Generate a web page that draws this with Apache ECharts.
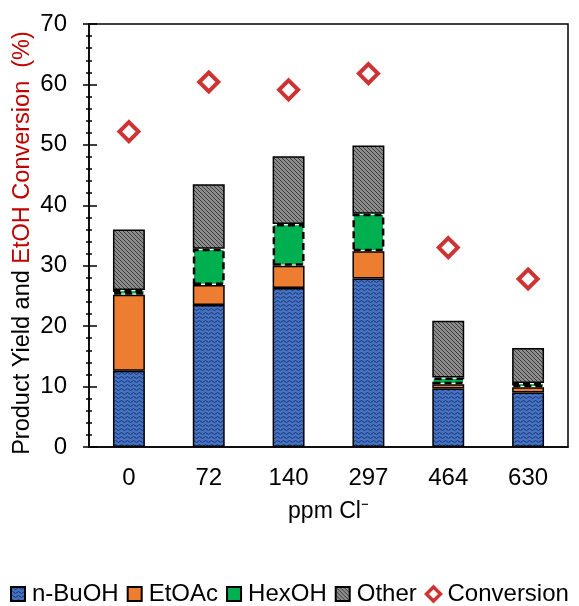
<!DOCTYPE html>
<html>
<head>
<meta charset="utf-8">
<script src="https://cdn.jsdelivr.net/npm/echarts@6/dist/echarts.min.js"></script>
<style>
  html, body { margin: 0; padding: 0; background: #fff; }
  #main { width: 579px; height: 606px; }
</style>
</head>
<body>
<div id="main"></div>
<script>
// categories (ppm Cl-)
var categories = ['0', '72', '140', '297', '464', '630'];
// stacked product yields (%)
var nBuOH = [12.6, 23.5, 26.3, 27.9, 9.7, 9.0];
var etOAc = [12.6, 3.3, 3.7, 4.5, 0.7, 0.9];
var hexOH = [0.8, 6.0, 6.9, 6.2, 1.1, 0.7];
var other = [10.0, 10.7, 11.2, 11.3, 9.4, 5.8];
// EtOH conversion (%)
var conversion = [52.2, 60.4, 59.1, 61.8, 33.0, 27.8];

var FONT = 'Liberation Sans, Arial, sans-serif';

// wavy pattern for n-BuOH
function wavePattern() {
  var c = document.createElement('canvas');
  c.width = 6; c.height = 4;
  var g = c.getContext('2d');
  g.fillStyle = '#4472C4';
  g.fillRect(0, 0, 6, 4);
  g.strokeStyle = '#1F3468';
  g.lineWidth = 1;
  g.beginPath();
  g.moveTo(0, 1.5); g.lineTo(1.5, 0.5); g.lineTo(3, 1.5); g.lineTo(4.5, 2.5); g.lineTo(6, 1.5);
  g.stroke();
  return c;
}
// diagonal hatch for Other
function hatchPattern() {
  var c = document.createElement('canvas');
  c.width = 4; c.height = 4;
  var g = c.getContext('2d');
  g.fillStyle = '#8C8C8C';
  g.fillRect(0, 0, 4, 4);
  g.strokeStyle = '#3A3A3A';
  g.lineWidth = 1;
  g.beginPath();
  g.moveTo(0, 0); g.lineTo(4, 4);
  g.moveTo(-2, 2); g.lineTo(2, 6);
  g.moveTo(2, -2); g.lineTo(6, 2);
  g.stroke();
  return c;
}

var chart = echarts.init(document.getElementById('main'));

var solidBorder = { borderColor: '#000', borderWidth: 1.5 };

var option = {
  backgroundColor: '#fff',
  textStyle: { fontFamily: FONT },
  grid: {
    left: 89, right: 11, top: 24, bottom: 159,
    show: true, borderColor: '#000', borderWidth: 1.5, backgroundColor: 'transparent'
  },
  // y axis title (two colours)
  graphic: [{
    type: 'text',
    x: 23, y: 243,
    rotation: Math.PI / 2,
    style: {
      text: '{b|Product Yield and }{r|EtOH Conversion  (%)}',
      align: 'center',
      verticalAlign: 'middle',
      fontFamily: FONT,
      rich: {
        b: { fontSize: 23.5, fill: '#000', fontFamily: FONT },
        r: { fontSize: 23.5, fill: '#C00000', fontFamily: FONT }
      }
    }
  }],
  legend: {
    top: 582,
    left: 10,
    width: 569,
    padding: 0,
    itemWidth: 14,
    itemHeight: 14,
    itemGap: 8,
    textStyle: { fontSize: 24, color: '#000', fontFamily: FONT, padding: [0, 0, 0, 2] },
    data: [
      { name: 'n-BuOH', icon: 'rect' },
      { name: 'EtOAc', icon: 'rect' },
      { name: 'HexOH', icon: 'rect' },
      { name: 'Other', icon: 'rect' },
      { name: 'Conversion', icon: 'diamond', itemStyle: { borderWidth: 3.5 } }
    ]
  },
  xAxis: [
    {
      type: 'category',
      data: categories,
      name: 'ppm Cl\u207B',
      nameLocation: 'middle',
      nameGap: 53,
      nameTextStyle: { fontSize: 23, color: '#000', fontFamily: FONT },
      axisLine: { lineStyle: { color: '#000', width: 1.5 } },
      axisTick: { inside: true, length: 7, lineStyle: { color: '#000', width: 1.5 } },
      axisLabel: { fontSize: 24, color: '#000', margin: 19, fontFamily: FONT }
    },
    {
      type: 'category',
      data: categories,
      position: 'bottom',
      axisLine: { show: false },
      axisTick: { alignWithLabel: true, length: 5, lineStyle: { color: '#000', width: 1.5 } },
      axisLabel: { show: false }
    }
  ],
  yAxis: [
    {
      type: 'value',
      min: 0, max: 70, interval: 10,
      axisLine: { show: true, lineStyle: { color: '#000', width: 1.5 } },
      axisTick: { show: true, length: 6, lineStyle: { color: '#000', width: 1.5 } },
      minorTick: { show: true, splitNumber: 5, length: 3, lineStyle: { color: '#000', width: 1.5 } },
      splitLine: { show: false },
      axisLabel: { fontSize: 24, color: '#000', margin: 22, fontFamily: FONT }
    },
    {
      type: 'value',
      min: 0, max: 70, interval: 10,
      position: 'left',
      axisLine: { show: false },
      axisTick: { show: true, inside: true, length: 8, lineStyle: { color: '#000', width: 1.5 } },
      minorTick: { show: true, splitNumber: 5, length: 3, lineStyle: { color: '#000', width: 1.5 } },
      splitLine: { show: false },
      axisLabel: { show: false }
    }
  ],
  series: [
    {
      name: 'n-BuOH', type: 'bar', stack: 'y', barWidth: '40%', data: nBuOH,
      itemStyle: Object.assign({ color: { image: wavePattern(), repeat: 'repeat' } }, solidBorder)
    },
    {
      name: 'EtOAc', type: 'bar', stack: 'y', barWidth: '40%', data: etOAc,
      itemStyle: Object.assign({ color: '#ED7D31' }, solidBorder)
    },
    {
      name: 'HexOH', type: 'bar', stack: 'y', barWidth: '40%', data: hexOH,
      itemStyle: { color: '#00B050', borderColor: '#000', borderWidth: 2.5, borderType: [7, 4] }
    },
    {
      name: 'Other', type: 'bar', stack: 'y', barWidth: '40%', data: other,
      itemStyle: Object.assign({ color: { image: hatchPattern(), repeat: 'repeat' } }, solidBorder)
    },
    {
      name: 'Conversion', type: 'scatter', data: conversion,
      symbol: 'diamond', symbolSize: 19, z: 5,
      itemStyle: { color: '#fff', borderColor: '#C00000', borderWidth: 4 }
    }
  ]
};

chart.setOption(option);
</script>
</body>
</html>
